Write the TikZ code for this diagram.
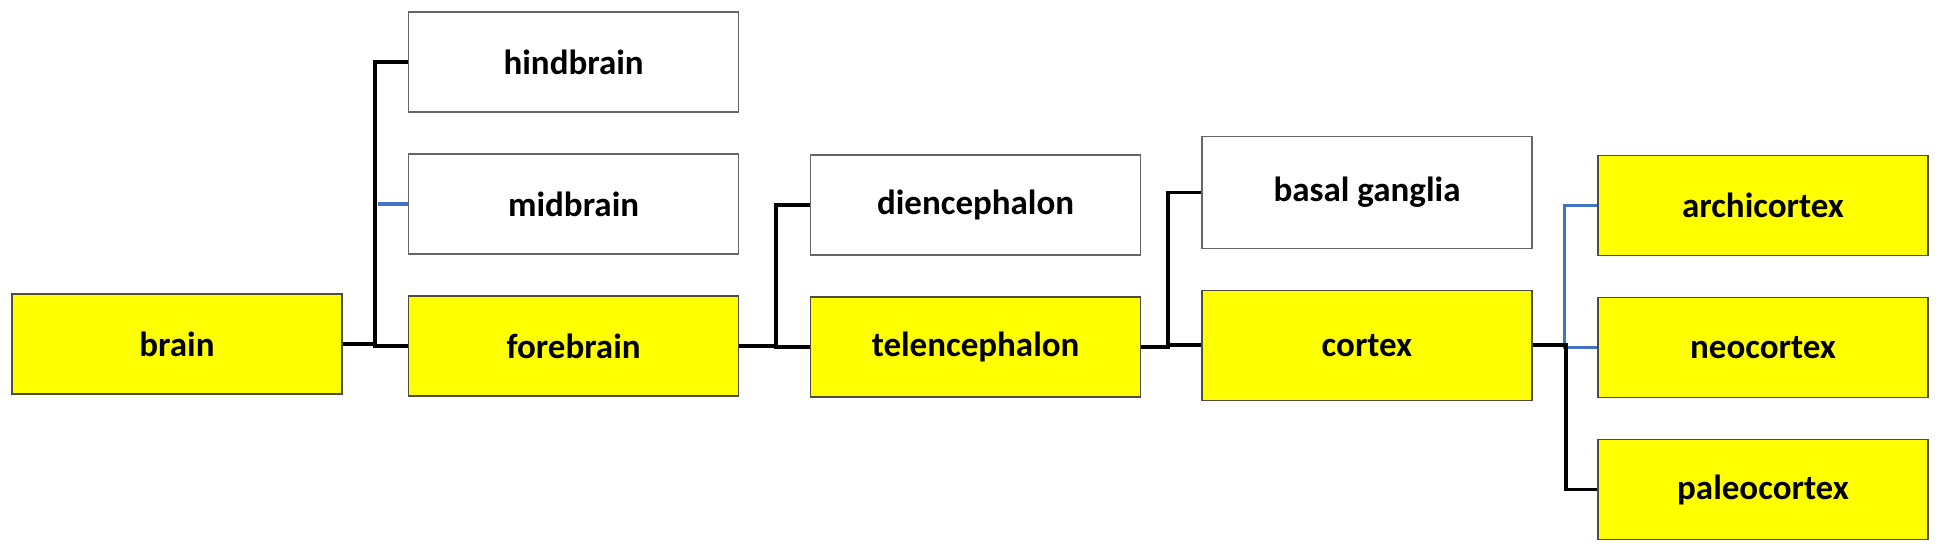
\documentclass[tikz,border=0pt]{standalone}
\usepackage{fontspec}
\setmainfont{Carlito}
\usepackage{tikz}
\usetikzlibrary{calc}

\definecolor{boxyellow}{RGB}{255,255,0}
\definecolor{linkblue}{RGB}{68,114,196}

\begin{document}
\begin{tikzpicture}[x=0.5pt,y=-0.5pt,
                part/.style={draw=black!60,line width=0.6pt,fill=white,minimum width=165pt,minimum height=50pt,
                             font=\fontsize{17.5}{21}\selectfont\bfseries,inner sep=0pt},
                keypart/.style={part,draw=black!65!yellow!60!black,fill=boxyellow},
                link/.style={line width=1.9pt,black},
                bluelink/.style={line width=1.9pt,linkblue}
                ]
                \useasboundingbox (0,0) rectangle (1942,554);
                % first split
                \node [keypart] (brain) at (177,344) {brain};
                \node [part] (hindbrain) at (573.6,62) {hindbrain};
                \node [part] (midbrain) at (573.6,204) {midbrain};
                \node [keypart] (forebrain) at (573.6,346) {forebrain};
                % forebrain
                \node [part] (diencephalon) at (975.6,205) {diencephalon};
                \node [keypart] (telencephalon) at (975.6,347) {telencephalon};
                % telencephalon
                \node [part, minimum height=56pt] (basal) at (1367,192.5) {basal ganglia};
                \node [keypart, minimum height=55pt] (cortex) at (1367,345.3) {cortex};
                % cortex
                \node [keypart] (archicortex) at (1763,205.5) {archicortex};
                \node [keypart] (neocortex) at (1763,347.5) {neocortex};
                \node [keypart] (paleocortex) at (1763,489.5) {paleocortex};

                \draw [link] (brain.east) -- ++(32,0) |- (hindbrain.west);
                \draw [link] (brain.east) -- ++(32,0) |- (forebrain.west);
                \draw [bluelink] (midbrain.west) -- ++(-30,0);
                \draw [link] (forebrain.east) -- ++(37,0) |- (diencephalon.west);
                \draw [link] (forebrain.east) -- ++(37,0) |- (telencephalon.west);
                \draw [link] (telencephalon.east) -- ++(27,0) |- (basal.west);
                \draw [link] (telencephalon.east) -- ++(27,0) |- (cortex.west);
                \draw [bluelink] (archicortex.west) -- ++(-33,0) |- (neocortex.west);
                \draw [link] (cortex.east) -- ++(33,0) |- (paleocortex.west);
            \end{tikzpicture}
\end{document}
